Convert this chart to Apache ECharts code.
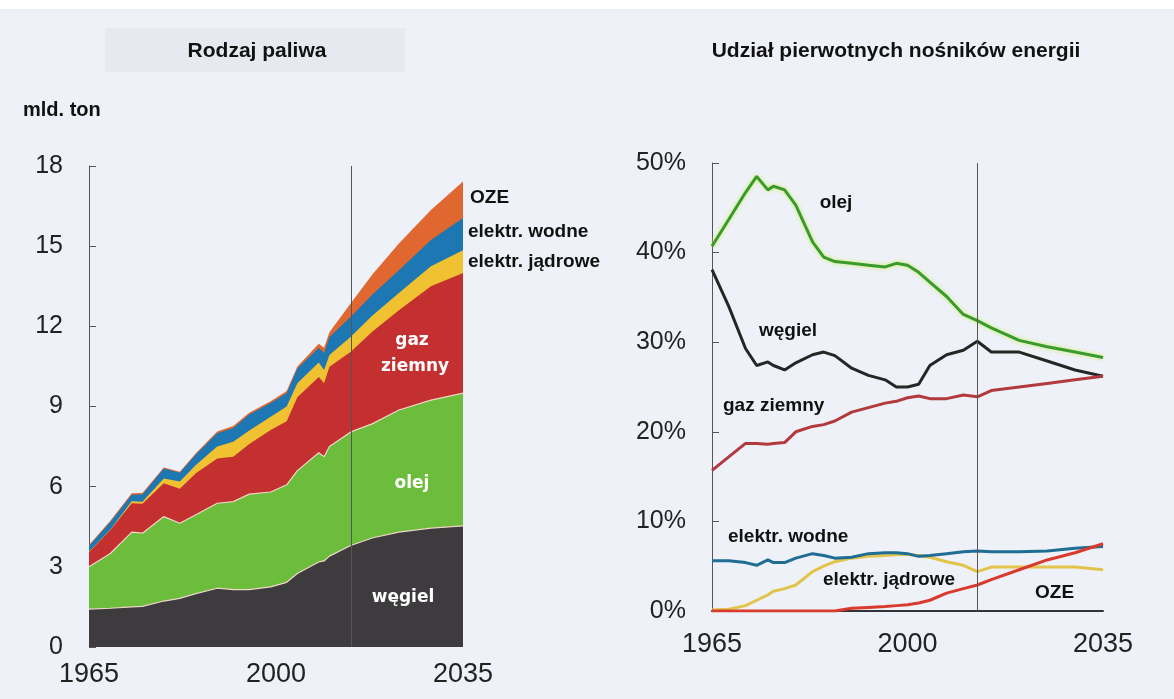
<!DOCTYPE html>
<html>
<head>
<meta charset="utf-8">
<title>Rodzaj paliwa / Udział pierwotnych nośników energii</title>
<script src="https://cdn.jsdelivr.net/npm/echarts@6/dist/echarts.min.js"></script>
<style>
  html, body { margin: 0; padding: 0; background: #eef1f7; }
  #chart { width: 1174px; height: 699px; }
</style>
</head>
<body>
<div id="chart"></div>
<script>
// lewy wykres: zużycie wg rodzaju paliwa, mld. ton (wartości składowe, nie skumulowane)
const fuelYears = [1965, 1969, 1973, 1975, 1979, 1982, 1985, 1989, 1992, 1995, 1999, 2002, 2004, 2008, 2009, 2010, 2014, 2018, 2023, 2029, 2035]
const coalTon = [1.42, 1.45, 1.5, 1.52, 1.72, 1.82, 2.0, 2.2, 2.15, 2.15, 2.25, 2.42, 2.75, 3.18, 3.22, 3.4, 3.8, 4.08, 4.3, 4.45, 4.53]
const oilTon = [1.58, 2.05, 2.8, 2.74, 3.16, 2.81, 2.95, 3.18, 3.29, 3.57, 3.55, 3.65, 3.85, 4.09, 3.9, 4.1, 4.25, 4.27, 4.57, 4.79, 4.97]
const gasTon = [0.55, 0.88, 1.08, 1.1, 1.25, 1.29, 1.55, 1.67, 1.68, 1.88, 2.32, 2.38, 2.75, 2.83, 2.75, 2.99, 3.0, 3.45, 3.73, 4.26, 4.5]
const nuclearTon = [0.01, 0.02, 0.07, 0.08, 0.18, 0.27, 0.31, 0.45, 0.56, 0.5, 0.5, 0.55, 0.52, 0.55, 0.5, 0.44, 0.56, 0.6, 0.65, 0.75, 0.85]
const hydroTon = [0.22, 0.28, 0.25, 0.27, 0.37, 0.33, 0.39, 0.5, 0.52, 0.6, 0.51, 0.5, 0.55, 0.55, 0.63, 0.67, 0.75, 0.78, 0.85, 0.98, 1.2]
const ozeTon = [0.04, 0.04, 0.05, 0.05, 0.04, 0.04, 0.05, 0.06, 0.07, 0.07, 0.07, 0.08, 0.08, 0.15, 0.2, 0.18, 0.5, 0.75, 1.0, 1.12, 1.37]

// prawy wykres: udział w %
const shareYears = [1965, 1968, 1971, 1973, 1975, 1976, 1978, 1980, 1983, 1985, 1987, 1990, 1993, 1996, 1998, 2000, 2002, 2004, 2007, 2010, 2012.5, 2015, 2020, 2025, 2030, 2035]
const oilShare = [40.7, 43.7, 46.7, 48.5, 47.0, 47.4, 47.0, 45.3, 41.2, 39.5, 39.0, 38.8, 38.6, 38.4, 38.8, 38.6, 37.8, 36.7, 35.1, 33.1, 32.4, 31.6, 30.2, 29.5, 28.9, 28.3]
const coalShare = [38.1, 34.0, 29.3, 27.4, 27.8, 27.4, 26.9, 27.7, 28.6, 28.9, 28.5, 27.1, 26.3, 25.8, 25.0, 25.0, 25.3, 27.4, 28.6, 29.1, 30.1, 28.9, 28.9, 27.9, 26.9, 26.2]
const gasShare = [15.7, 17.2, 18.7, 18.7, 18.6, 18.7, 18.8, 20.0, 20.6, 20.8, 21.2, 22.2, 22.7, 23.2, 23.4, 23.8, 24.0, 23.7, 23.7, 24.1, 23.9, 24.6, 25.0, 25.4, 25.8, 26.2]
const hydroShare = [5.6, 5.6, 5.4, 5.1, 5.7, 5.4, 5.4, 5.9, 6.4, 6.2, 5.9, 6.0, 6.4, 6.5, 6.5, 6.4, 6.1, 6.2, 6.4, 6.6, 6.7, 6.6, 6.6, 6.7, 7.0, 7.2]
const nuclearShare = [0.1, 0.2, 0.6, 1.2, 1.8, 2.2, 2.5, 2.9, 4.4, 5.0, 5.5, 5.9, 6.1, 6.2, 6.3, 6.3, 6.2, 6.0, 5.5, 5.1, 4.4, 4.9, 4.9, 4.9, 4.9, 4.6]
const ozeShare = [0, 0, 0, 0, 0, 0, 0, 0, 0, 0, 0, 0.3, 0.4, 0.5, 0.6, 0.7, 0.9, 1.2, 2.0, 2.5, 2.9, 3.5, 4.6, 5.7, 6.5, 7.5]

const yearLabels = [1965, 2000, 2035]

const pair = (xs, ys) => xs.map((x, i) => [x, ys[i]])

// skumulowane wartości dla warstw (oś x jest liczbowa, więc sumujemy sami)
const layers = [coalTon, oilTon, gasTon, nuclearTon, hydroTon, ozeTon]
const cumulative = []
layers.forEach((vals, k) => {
  cumulative.push(vals.map((v, i) => +(v + (k ? cumulative[k - 1][i] : 0)).toFixed(2)))
})

const chart = echarts.init(document.getElementById('chart'))

const axisFont = 'Liberation Sans, Arial, sans-serif'

function xAxisFor (gridIndex, showLine, margin) {
  return {
    type: 'value',
    gridIndex,
    min: 1965,
    max: 2035,
    axisLine: { show: showLine, lineStyle: { color: '#333', width: 2 } },
    axisTick: { show: false },
    splitLine: { show: false },
    axisLabel: {
      customValues: yearLabels,
      formatter: (v) => String(v),
      fontSize: 27,
      color: '#222',
      fontFamily: axisFont,
      margin
    }
  }
}

function yAxisFor (gridIndex, max, interval, fmt) {
  return {
    type: 'value',
    gridIndex,
    min: 0,
    max,
    interval,
    axisLine: { show: true, lineStyle: { color: '#555', width: 1 } },
    axisTick: { show: true, inside: true, length: 7, lineStyle: { color: '#555' } },
    splitLine: { show: false },
    axisLabel: { formatter: fmt, fontSize: 25, color: '#222', fontFamily: axisFont, margin: 26 }
  }
}

function areaSeries (name, k, color, edge) {
  return {
    name,
    type: 'line',
    xAxisIndex: 0,
    yAxisIndex: 0,
    symbol: 'none',
    data: pair(fuelYears, cumulative[k]),
    lineStyle: edge ? { color: '#efd6c8', width: 1.2 } : { width: 0 },
    areaStyle: { color, opacity: 1 },
    z: 2
  }
}

function shareSeries (name, values, color, extra) {
  return Object.assign({
    name,
    type: 'line',
    xAxisIndex: 1,
    yAxisIndex: 1,
    symbol: 'none',
    data: pair(shareYears, values),
    lineStyle: { color, width: 3 },
    z: 3
  }, extra || {})
}

function label (text, x, y, opts) {
  return {
    type: 'text',
    x,
    y,
    z: 10,
    style: Object.assign({
      text,
      fill: '#111',
      font: 'bold 19px Liberation Sans, Arial, sans-serif',
      textAlign: 'left',
      textVerticalAlign: 'middle'
    }, opts || {})
  }
}

const whiteFont = 'bold 17px DejaVu Sans, Verdana, sans-serif'

const vline = (x) => ({
  silent: true,
  symbol: 'none',
  label: { show: false },
  lineStyle: { color: '#555', width: 1, type: 'solid' },
  data: [{ xAxis: x }]
})

chart.setOption({
  backgroundColor: '#eef1f7',
  animation: false,
  title: [
    { text: 'Rodzaj paliwa', left: 252, top: 36, textAlign: 'center',
      textStyle: { fontSize: 21, fontWeight: 'bold', color: '#111', fontFamily: axisFont } },
    { text: 'Udział pierwotnych nośników energii', left: 891, top: 36, textAlign: 'center',
      textStyle: { fontSize: 21, fontWeight: 'bold', color: '#111', fontFamily: axisFont } }
  ],
  grid: [
    { left: 89, right: 711, top: 166, bottom: 52 },
    { left: 712, right: 71, top: 163, bottom: 88 }
  ],
  xAxis: [xAxisFor(0, false, 14), xAxisFor(1, true, 20)],
  yAxis: [yAxisFor(0, 18, 3, '{value}'), yAxisFor(1, 50, 10, '{value}%')],
  series: [
    // od najwyższej warstwy do najniższej, żeby dolne przykrywały górne
    areaSeries('OZE', 5, '#e0672f', false),
    areaSeries('elektr. wodne', 4, '#1c77b2', false),
    areaSeries('elektr. jądrowe', 3, '#f0c232', false),
    areaSeries('gaz ziemny', 2, '#c3302f', false),
    areaSeries('olej', 1, '#6dbd3c', true),
    Object.assign(areaSeries('węgiel', 0, '#3d3b3d', true), { markLine: vline(2014) }),

    shareSeries('olej', oilShare, '#3e9d2e', {
      lineStyle: { color: '#3a9a2b', width: 3, shadowColor: 'rgba(200,240,100,1)', shadowBlur: 4 },
      markLine: vline(2012.4)
    }),
    shareSeries('węgiel', coalShare, '#262626'),
    shareSeries('gaz ziemny', gasShare, '#b2393d'),
    shareSeries('elektr. jądrowe', nuclearShare, '#e3c44a'),
    shareSeries('elektr. wodne', hydroShare, '#1f6c95'),
    shareSeries('OZE', ozeShare, '#d93a2c')
  ],
  graphic: [
    { type: 'rect', shape: { x: 0, y: 0, width: 1174, height: 9 }, style: { fill: '#ffffff' }, z: 0 },
    { type: 'rect', shape: { x: 105, y: 28, width: 300, height: 44 }, style: { fill: '#e6e9ef' }, z: 0 },
    label('mld. ton', 23, 110, { font: 'bold 20px Liberation Sans, Arial, sans-serif' }),
    label('OZE', 470, 198),
    label('elektr. wodne', 468, 232),
    label('elektr. jądrowe', 468, 262),
    label('gaz', 412, 341, { fill: '#fff', font: whiteFont, textAlign: 'center' }),
    label('ziemny', 415, 367, { fill: '#fff', font: whiteFont, textAlign: 'center' }),
    label('olej', 412, 484, { fill: '#fff', font: whiteFont, textAlign: 'center' }),
    label('węgiel', 403, 598, { fill: '#fff', font: whiteFont, textAlign: 'center' }),
    label('olej', 836, 203, { textAlign: 'center' }),
    label('węgiel', 788, 331, { textAlign: 'center' }),
    label('gaz ziemny', 723, 406),
    label('elektr. wodne', 728, 537),
    label('elektr. jądrowe', 823, 580),
    label('OZE', 1035, 593)
  ]
})
</script>
</body>
</html>
